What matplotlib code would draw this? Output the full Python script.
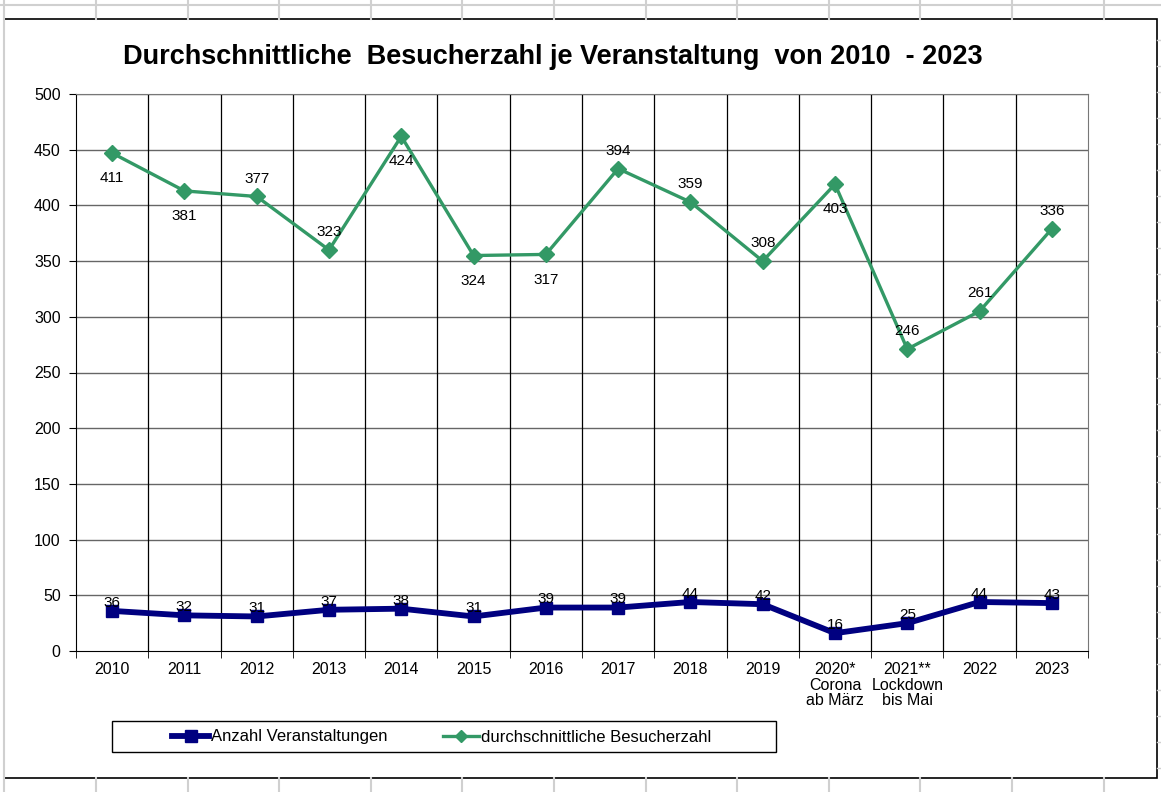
import matplotlib
matplotlib.use("Agg")
import matplotlib.pyplot as plt
from matplotlib.lines import Line2D
from matplotlib.patches import Rectangle
import numpy as np

plt.rcParams['font.family'] = ['Liberation Sans', 'DejaVu Sans']

categories = ["2010", "2011", "2012", "2013", "2014", "2015", "2016", "2017",
              "2018", "2019", "2020*\nCorona\nab März", "2021**\nLockdown\nbis Mai",
              "2022", "2023"]
anzahl = [36, 32, 31, 37, 38, 31, 39, 39, 44, 42, 16, 25, 44, 43]
besucher = [411, 381, 377, 323, 424, 324, 317, 394, 359, 308, 403, 246, 261, 336]
# Excel "stacked line": visitor series drawn on top of event count
besucher_side = ["below", "below", "above", "above", "below", "below", "below",
                 "above", "above", "above", "below", "above", "above", "above"]
series_names = ["Anzahl Veranstaltungen", "durchschnittliche Besucherzahl"]

title = "Durchschnittliche  Besucherzahl je Veranstaltung  von 2010  - 2023"
yticks = [0, 50, 100, 150, 200, 250, 300, 350, 400, 450, 500]

blue = "#000080"
green = "#339966"

W, H = 1161, 792
fig = plt.figure(figsize=(W / 100, H / 100), dpi=100)

# spreadsheet background lines and chart frame
bg = fig.add_axes([0, 0, 1, 1], zorder=-5)
bg.set_xlim(0, W); bg.set_ylim(H, 0); bg.axis("off")
for xv in np.arange(96, W, 91.6):
    bg.plot([xv, xv], [0, 19], color="#d0d0d0", lw=1.5)
    bg.plot([xv, xv], [778, H], color="#d0d0d0", lw=1.5)
bg.plot([0, W], [5, 5], color="#d0d0d0", lw=1.5)
bg.plot([4, 4], [0, H], color="#d0d0d0", lw=1.5)
for yv in np.arange(40, 778, 26):
    bg.plot([1157, W], [yv, yv], color="#d0d0d0", lw=1.0)
bg.add_patch(Rectangle((4, 19), 1153, 759, facecolor="white", edgecolor="black", lw=1.2))
# legend frame
bg.add_patch(Rectangle((112, 721), 664, 31, facecolor="white", edgecolor="black", lw=1.0))

ax_l, ax_r, ax_t, ax_b = 76, 1088, 94, 651
ax = fig.add_axes([ax_l / W, 1 - ax_b / H, (ax_r - ax_l) / W, (ax_b - ax_t) / H])
ax.patch.set_alpha(0)
x = np.arange(len(categories))
stacked = np.array(anzahl) + np.array(besucher)

ax.set_xlim(-0.5, len(categories) - 0.5)
ax.set_ylim(0, 500)
ax.set_yticks(yticks)
ax.set_yticklabels([str(v) for v in yticks], fontsize=11.5)
ax.set_xticks(x)
ax.set_xticklabels(categories, fontsize=11.5, linespacing=1.05)
ax.tick_params(axis="x", length=0, pad=8)
ax.set_xticks(np.arange(-0.5, len(categories), 1.0), minor=True)
ax.tick_params(axis="x", which="minor", length=5, direction="out", color="black")
ax.tick_params(axis="y", length=5, direction="out", color="black", pad=6)

for yv in yticks[1:]:
    ax.axhline(yv, color="#666666", lw=1.0, zorder=0)
for xv in np.arange(0.5, len(categories) - 1, 1.0):
    ax.axvline(xv, color="black", lw=0.9, zorder=0)
for s in ["top", "right"]:
    ax.spines[s].set_color("#777777")
ax.spines["left"].set_color("black")
ax.spines["bottom"].set_color("black")

ax.plot(x, anzahl, color=blue, lw=4.2, marker="s", ms=8, zorder=3)
ax.plot(x, stacked, color=green, lw=2.4, marker="D", ms=8, zorder=3)

for xi, v in zip(x, anzahl):
    ax.annotate(str(v), (xi, v), xytext=(0, 3), textcoords="offset points",
                ha="center", va="baseline", fontsize=11, zorder=4)
for xi, v, lab, side in zip(x, stacked, besucher, besucher_side):
    dy = 10 if side == "above" else -21
    ax.annotate(str(lab), (xi, v), xytext=(0, dy), textcoords="offset points",
                ha="center", va="baseline", fontsize=11, zorder=4)

# title, sized to the reference width
t = fig.text(553 / W, 1 - 57 / H, title, ha="center", va="center",
             fontsize=18, fontweight="bold")
fig.canvas.draw()
wpx = t.get_window_extent().width
t.set_fontsize(18 * 861.0 / wpx)

handles = [Line2D([], [], color=blue, lw=4.2, marker="s", ms=8),
           Line2D([], [], color=green, lw=2.4, marker="D", ms=6)]
leg = fig.legend(handles, series_names,
                 loc="center", bbox_to_anchor=(442 / W, 1 - 737 / H), ncol=2,
                 fontsize=12, frameon=False,
                 handlelength=2.2, handletextpad=0.12, columnspacing=3.3,
                 borderpad=0.2)

fig.savefig("out.png", dpi=100)
